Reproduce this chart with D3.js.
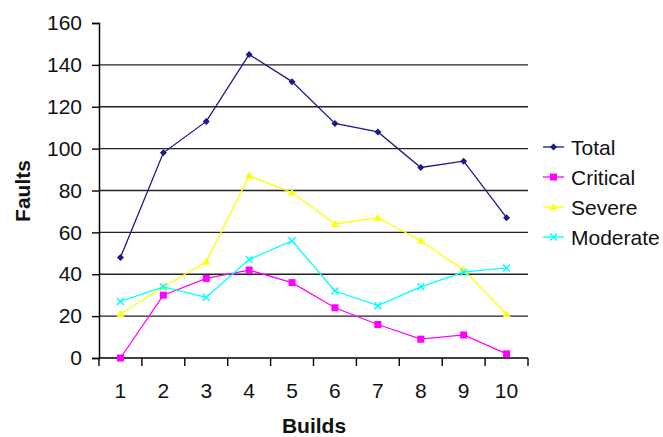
<!DOCTYPE html>
<html>
<head>
<meta charset="utf-8">
<script src="https://cdn.jsdelivr.net/npm/d3@7"></script>
<style>
  html, body { margin: 0; padding: 0; background: #fff; }
  svg { display: block; font-family: "Liberation Sans", Arial, sans-serif; }
</style>
</head>
<body>
<svg id="chart" width="663" height="437"></svg>
<script>
// Fault counts per build, by severity
const builds = [1, 2, 3, 4, 5, 6, 7, 8, 9, 10];
const total    = [48, 98, 113, 145, 132, 112, 108, 91, 94, 67];
const critical = [0, 30, 38, 42, 36, 24, 16, 9, 11, 2];
const severe   = [21, 34, 46, 87, 79, 64, 67, 56, 42, 21];
const moderate = [27, 34, 29, 47, 56, 32, 25, 34, 41, 43];
const yTicks = [0, 20, 40, 60, 80, 100, 120, 140, 160];

const seriesList = [
  { name: "Total",    values: total,    color: "#1a1a8c", marker: "diamond" },
  { name: "Critical", values: critical, color: "#ff00ff", marker: "square" },
  { name: "Severe",   values: severe,   color: "#ffff00", marker: "triangle" },
  { name: "Moderate", values: moderate, color: "#00ffff", marker: "cross" }
];

const fontSize = 21;
const svg = d3.select("#chart");
const plotLeft = 99, plotRight = 528, plotTop = 23, plotBottom = 358;

const x = d3.scaleBand().domain(builds).range([plotLeft, plotRight]);
const y = d3.scaleLinear().domain([0, 160]).range([plotBottom, plotTop]);

// Horizontal gridlines (no line at the top value)
svg.append("g")
  .selectAll("line")
  .data(yTicks.filter(v => v > 0 && v < 160))
  .join("line")
  .attr("x1", plotLeft).attr("x2", plotRight)
  .attr("y1", d => y(d)).attr("y2", d => y(d))
  .attr("stroke", "#222").attr("stroke-width", 1.4);

// Y axis
const yAxis = svg.append("g")
  .attr("transform", `translate(${plotLeft},0)`)
  .call(d3.axisLeft(y).tickValues(yTicks).tickSize(7).tickPadding(10));
yAxis.select(".domain").attr("stroke", "#000").attr("stroke-width", 1.5);
yAxis.selectAll(".tick line").attr("stroke", "#000").attr("stroke-width", 1.4);
yAxis.selectAll(".tick text")
  .attr("font-size", fontSize).attr("fill", "#111")
  .attr("font-family", "Liberation Sans, Arial, sans-serif");

// X axis: ticks at band boundaries, labels at band centers
const xAxisG = svg.append("g").attr("transform", `translate(0,${plotBottom})`);
xAxisG.append("line")
  .attr("x1", plotLeft).attr("x2", plotRight)
  .attr("stroke", "#000").attr("stroke-width", 1.5);
const boundaries = builds.map(b => x(b)).concat([x(builds[builds.length - 1]) + x.bandwidth()]);
xAxisG.selectAll("line.tk")
  .data(boundaries)
  .join("line")
  .attr("class", "tk")
  .attr("x1", d => d).attr("x2", d => d)
  .attr("y1", 0).attr("y2", 8)
  .attr("stroke", "#000").attr("stroke-width", 1.4);
xAxisG.selectAll("text")
  .data(builds)
  .join("text")
  .attr("x", d => x(d) + x.bandwidth() / 2)
  .attr("y", 40)
  .attr("text-anchor", "middle")
  .attr("font-size", fontSize).attr("fill", "#111")
  .text(d => d);

// Axis titles
svg.append("text")
  .attr("x", 314).attr("y", 433)
  .attr("text-anchor", "middle")
  .attr("font-size", fontSize).attr("font-weight", "bold").attr("fill", "#111")
  .text("Builds");
svg.append("text")
  .attr("transform", "translate(30,191) rotate(-90)")
  .attr("text-anchor", "middle")
  .attr("font-size", fontSize).attr("font-weight", "bold").attr("fill", "#111")
  .text("Faults");

// Marker drawing
function drawMarker(g, type, color) {
  if (type === "diamond") {
    g.append("path").attr("d", "M0,-3.5L3.5,0L0,3.5L-3.5,0Z").attr("fill", color);
  } else if (type === "square") {
    g.append("rect").attr("x", -3.5).attr("y", -3.5).attr("width", 7).attr("height", 7).attr("fill", color);
  } else if (type === "triangle") {
    g.append("path").attr("d", "M0,-4L4,3L-4,3Z").attr("fill", color);
  } else if (type === "cross") {
    g.append("path").attr("d", "M-3.5,-3.5L3.5,3.5M-3.5,3.5L3.5,-3.5")
      .attr("stroke", color).attr("stroke-width", 1.5).attr("fill", "none");
  }
}

const line = d3.line()
  .x((d, i) => x(builds[i]) + x.bandwidth() / 2)
  .y(d => y(d));

// Series lines and markers
seriesList.forEach(s => {
  svg.append("path")
    .attr("d", line(s.values))
    .attr("fill", "none")
    .attr("stroke", s.color)
    .attr("stroke-width", 1.3);
  s.values.forEach((v, i) => {
    const g = svg.append("g")
      .attr("transform", `translate(${x(builds[i]) + x.bandwidth() / 2},${y(v)})`);
    drawMarker(g, s.marker, s.color);
  });
});

// Legend
const legend = svg.append("g");
seriesList.forEach((s, i) => {
  const ly = 147 + i * 30;
  legend.append("line")
    .attr("x1", 543).attr("x2", 564)
    .attr("y1", ly).attr("y2", ly)
    .attr("stroke", s.color).attr("stroke-width", 1.3);
  const g = legend.append("g").attr("transform", `translate(553.5,${ly})`);
  drawMarker(g, s.marker, s.color);
  legend.append("text")
    .attr("x", 571).attr("y", ly + 7.5)
    .attr("font-size", fontSize).attr("fill", "#111")
    .text(s.name);
});
</script>
</body>
</html>
